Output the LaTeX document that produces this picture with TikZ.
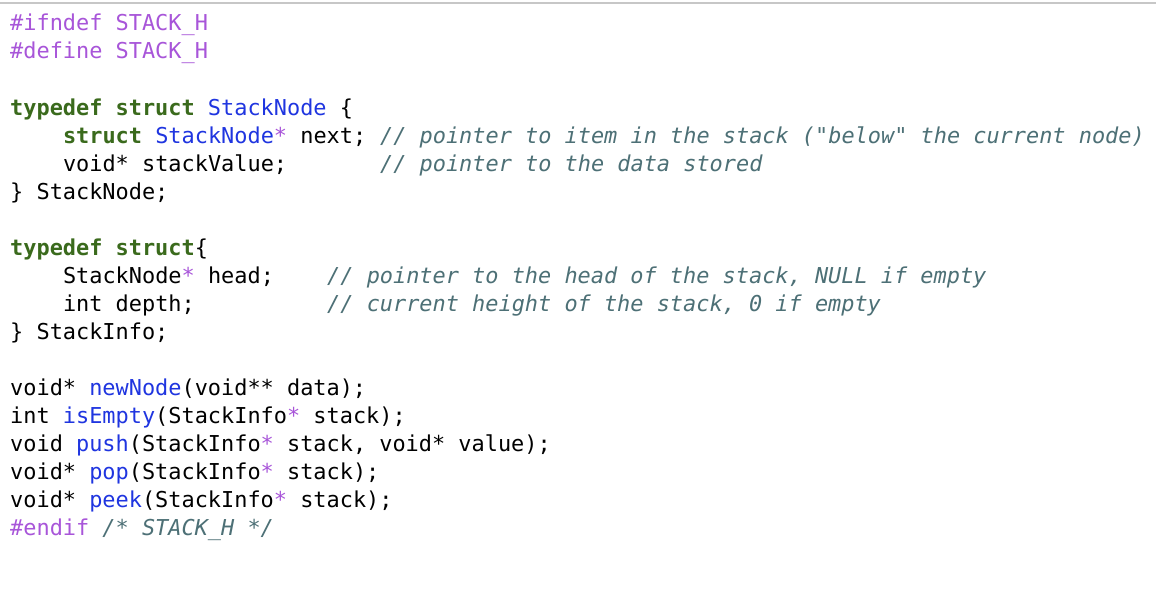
\documentclass[tikz,border=0pt]{standalone}
\usepackage{fontspec}
\setmonofont{DejaVu Sans Mono}
\usepackage{xcolor}
\usetikzlibrary{positioning}
\definecolor{ppcol}{HTML}{A855D9}
\definecolor{kwcol}{HTML}{3A6A1C}
\definecolor{idcol}{HTML}{1F35E0}
\definecolor{cmcol}{HTML}{4D7076}
\newcommand{\pp}[1]{\textcolor{ppcol}{#1}}
\newcommand{\kw}[1]{\textcolor{kwcol}{\bfseries #1}}
\newcommand{\id}[1]{\textcolor{idcol}{#1}}
\newcommand{\cm}[1]{\textcolor{cmcol}{\itshape #1}}
\newcommand{\pst}{\pp{*}}

\begin{document}
\begin{tikzpicture}[x=1pt,y=-1pt,
  code/.style={anchor=base west, inner sep=0pt, font=\ttfamily\fontsize{21.9}{26}\selectfont}]
  \useasboundingbox (0,0) rectangle (1156,610);
  \fill[white] (0,0) rectangle (1156,610);
  \draw[line width=2pt, black!22] (0,3) -- (1156,3);
  % header guard
  \node[code] (l1) at (10,31) {\pp{\#ifndef STACK\_H}};
  \node[code] (l2) at (10,59) {\pp{\#define STACK\_H}};
  % StackNode
  \node[code] (l4) at (10,115) {\kw{typedef struct} \id{StackNode} \{};
  \node[code] (l5) at (62.8,143) {\kw{struct} \id{StackNode}\pst{} next;};
  \node[code] (c5) at (379.9,143) {\cm{// pointer to item in the stack ("below" the current node)}};
  \node[code] (l6) at (62.8,171) {void* stackValue;};
  \node[code] (c6) at (379.9,171) {\cm{// pointer to the data stored}};
  \node[code] (l7) at (10,199) {\} StackNode;};
  % StackInfo
  \node[code] (l9) at (10,255) {\kw{typedef struct}\{};
  \node[code] (l10) at (62.8,283) {StackNode\pst{} head;};
  \node[code] (c10) at (327,283) {\cm{// pointer to the head of the stack, NULL if empty}};
  \node[code] (l11) at (62.8,311) {int depth;};
  \node[code] (c11) at (327,311) {\cm{// current height of the stack, 0 if empty}};
  \node[code] (l12) at (10,339) {\} StackInfo;};
  % prototypes
  \node[code] (l14) at (10,395) {void* \id{newNode}(void** data);};
  \node[code] (l15) at (10,423) {int \id{isEmpty}(StackInfo\pst{} stack);};
  \node[code] (l16) at (10,451) {void \id{push}(StackInfo\pst{} stack, void* value);};
  \node[code] (l17) at (10,479) {void* \id{pop}(StackInfo\pst{} stack);};
  \node[code] (l18) at (10,507) {void* \id{peek}(StackInfo\pst{} stack);};
  \node[code] (l19) at (10,535) {\pp{\#endif} \cm{/* STACK\_H */}};
\end{tikzpicture}
\end{document}
